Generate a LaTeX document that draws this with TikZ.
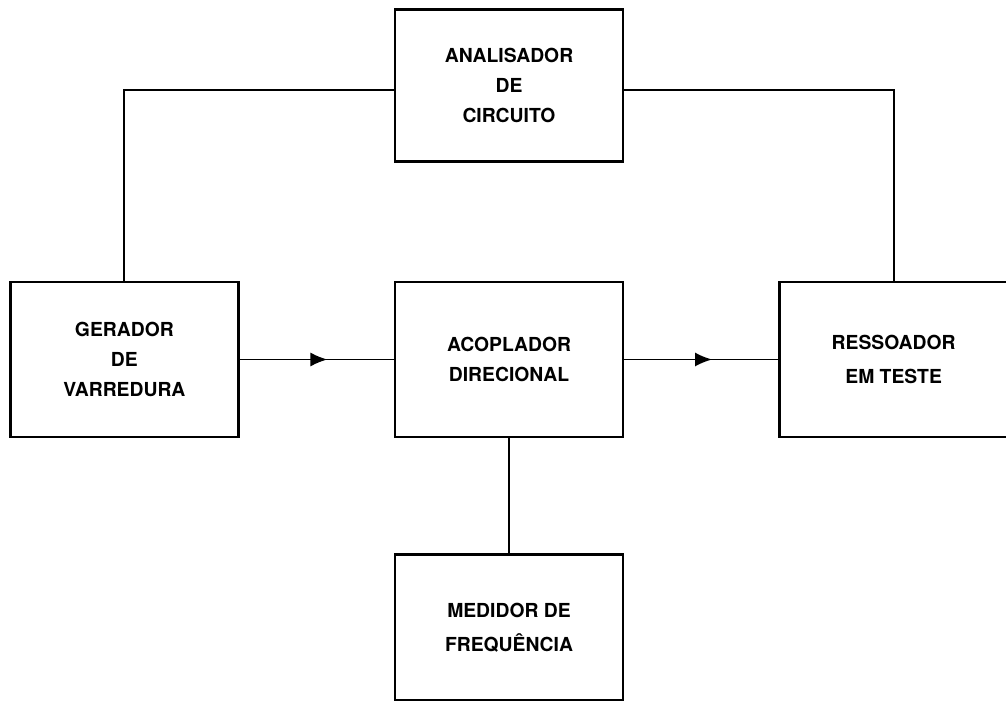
\documentclass[tikz,border=0pt]{standalone}
\usepackage{fontspec}
\setmainfont{TeX Gyre Heros}
\usepackage{tikz}
\usetikzlibrary{arrows.meta,positioning,decorations.markings}

\begin{document}
\begin{tikzpicture}[
  node distance=2.33cm and 3.08cm,
  >=Latex,
  font=\fontsize{11}{17}\selectfont\bfseries,
  bloco/.style={rectangle, draw=black, line width=1.5pt, inner sep=3pt, align=center, minimum width=4.56cm, minimum height=3.1cm},
  lig/.style={line width=1pt},
  arr/.style={line width=1pt, postaction={decorate}, decoration={markings, mark=at position 0.57 with {\arrow{Latex[length=3.4mm,width=2.8mm]}}}}
]
\useasboundingbox (0,0) rectangle (20.12,14);

% Main chain
\node[bloco] (acop) at (10.18,6.81) {ACOPLADOR\\DIRECIONAL};
\node[bloco, left=of acop] (gerador) {GERADOR\\DE\\VARREDURA};
\node[bloco, right=of acop] (ressoador) {RESSOADOR\\[2pt]EM TESTE};

% Above and below
\node[bloco, above=2.36cm of acop, minimum height=3.04cm] (analisador) {ANALISADOR\\DE\\CIRCUITO};
\node[bloco, below=2.3cm of acop, minimum height=2.92cm] (medidor) {MEDIDOR DE\\[2pt]FREQUÊNCIA};

% Connections
\draw[arr] (gerador) -- (acop);
\draw[arr] (acop) -- (ressoador);
\draw[lig] (acop) -- (medidor);

% Analyzer loop
\draw[lig] ([yshift=-1mm]analisador.west) -| (gerador.north);
\draw[lig] ([yshift=-1mm]analisador.east) -| (ressoador.north);

\end{tikzpicture}
\end{document}
